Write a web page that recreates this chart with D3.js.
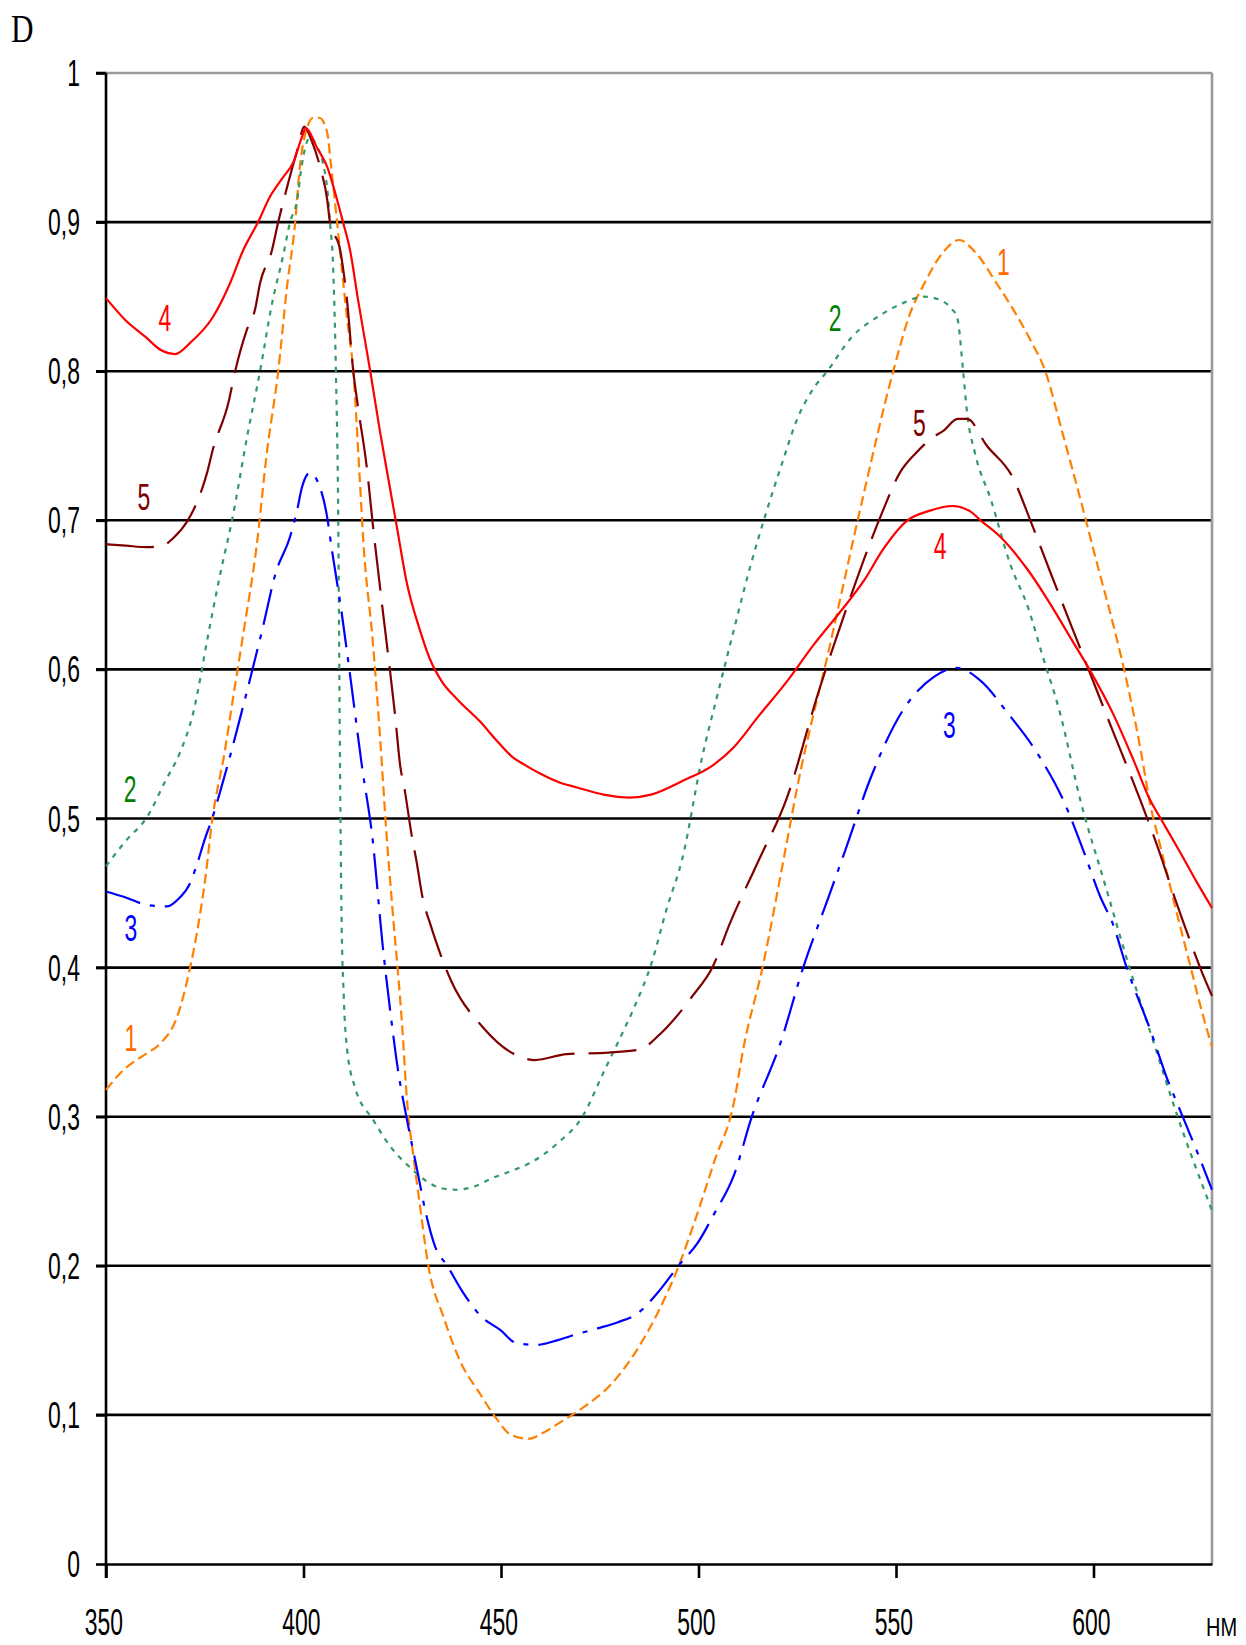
<!DOCTYPE html>
<html><head><meta charset="utf-8">
<script src="https://cdn.jsdelivr.net/npm/d3@7"></script>
<style>body{margin:0;background:#fff}</style>
</head><body>
<svg id="c" width="1246" height="1645"></svg>
<script>
// ---- data (wavelength nm, optical density D) ----
const wl1=[350,354.3,360,363.7,368,371.3,373,375,377,380,382,385,388,390.8,393.6,395.8,397.9,399,401,402.5,404,406,407,408.5,411,412.6,414.3,415.2,417.5,419.5,421,422.5,425,426.2,428,429.5,431.6,435.4,440.4,444,449,452.3,457,460.7,465,470.8,477.7,484.5,489.6,495,499.7,504,509,511.3,516.2,522,525,533,541.5,549.3,553.6,557,562,566,570,575.7,580,584,587.8,592,596.7,601,605,609,612,614.4,616.5,620.3,625,627.5,630];
const d1=[0.318,0.331,0.342,0.349,0.367,0.40,0.423,0.457,0.501,0.544,0.578,0.628,0.68,0.747,0.80,0.856,0.90,0.935,0.964,0.97,0.97,0.96,0.937,0.90,0.836,0.80,0.725,0.684,0.62,0.55,0.49,0.44,0.36,0.311,0.27,0.24,0.20,0.166,0.132,0.117,0.097,0.087,0.084,0.088,0.095,0.105,0.12,0.144,0.168,0.20,0.235,0.27,0.31,0.345,0.40,0.479,0.521,0.613,0.714,0.80,0.839,0.858,0.88,0.888,0.88,0.858,0.84,0.821,0.80,0.76,0.714,0.67,0.63,0.585,0.545,0.509,0.486,0.445,0.396,0.37,0.347];

const wl2=[350,355,360.4,365,368.7,372,376,379,381.9,386,389,392,394.8,396.6,398.4,399.5,401.7,403.5,404.7,406.2,406.7,407.5,408.2,408.8,409.2,409.6,410.2,411,413,417.6,422,427.8,431,435,438.9,443,448,453,457.4,464.2,470.6,476,480,484,488,492,495.8,501,505,509,513,517,521,525,529,532.6,538.5,546.3,552,557,561,564,565.5,567,568,570,574,579,583.5,587,591.5,596.7,602.9,609.1,615.2,621.3,629,630];
const d2=[0.468,0.485,0.501,0.525,0.544,0.57,0.625,0.665,0.70,0.76,0.80,0.845,0.877,0.90,0.915,0.937,0.957,0.95,0.942,0.917,0.90,0.87,0.80,0.70,0.55,0.44,0.38,0.346,0.32,0.298,0.28,0.264,0.257,0.252,0.251,0.253,0.259,0.264,0.269,0.282,0.30,0.33,0.352,0.375,0.402,0.44,0.472,0.542,0.585,0.627,0.668,0.704,0.737,0.768,0.788,0.80,0.822,0.838,0.846,0.85,0.848,0.842,0.836,0.80,0.772,0.745,0.714,0.67,0.641,0.61,0.571,0.512,0.456,0.40,0.35,0.30,0.244,0.237];

const wl3=[350,355,360.4,365.5,368.7,371,373,375,377,378.9,380.6,384.3,389.6,393,396.6,398.4,399.6,401.7,403.4,406,407.2,409.5,412,414.8,417.5,420,422,424,426.2,428.8,431,433.3,436.4,440.4,445,449.8,454,459.2,464.2,469,474.4,479.4,484.5,490.3,494.9,499.7,504,509,513.5,520.7,526.5,532.6,537.2,543.7,551.6,559.6,565.4,571.6,578.2,586.2,592.4,597.5,601.8,604.8,608.4,614.4,619,621.5,626.6,630];
const d3v=[0.451,0.447,0.442,0.441,0.447,0.455,0.469,0.486,0.501,0.518,0.534,0.571,0.627,0.665,0.689,0.707,0.722,0.732,0.727,0.702,0.68,0.641,0.592,0.535,0.486,0.416,0.37,0.33,0.298,0.264,0.235,0.213,0.20,0.182,0.166,0.157,0.148,0.147,0.150,0.154,0.158,0.162,0.168,0.184,0.20,0.215,0.235,0.261,0.30,0.349,0.40,0.445,0.479,0.528,0.572,0.595,0.601,0.592,0.571,0.542,0.512,0.478,0.447,0.43,0.40,0.358,0.323,0.307,0.274,0.251];

const wl4=[350,355,360,364,367.5,371.3,377,381.4,384.7,388.5,391.5,394.8,397.4,399.6,400.6,403.4,406,408.5,410,411.8,413.8,416.9,419.4,422,424,426,429.4,432,435,438.9,444.7,449,453,456,460,465,469,476,482.5,488,495.8,503.8,509,515,522.4,529,535.7,542,546.6,552.9,558,564.3,568.8,571.4,576.4,583.3,588.8,594,599.4,605,610,614.4,617,622,626,630];
const d4=[0.849,0.834,0.823,0.814,0.8115,0.819,0.836,0.859,0.881,0.90,0.917,0.93,0.94,0.957,0.963,0.95,0.937,0.915,0.90,0.881,0.848,0.80,0.759,0.72,0.69,0.66,0.627,0.607,0.592,0.58,0.565,0.552,0.541,0.536,0.53,0.524,0.521,0.516,0.514,0.516,0.525,0.536,0.548,0.568,0.592,0.616,0.638,0.66,0.68,0.70,0.706,0.7096,0.706,0.70,0.689,0.667,0.645,0.622,0.598,0.57,0.54,0.512,0.50,0.477,0.458,0.44];

const wl5=[350,355,360.4,364.4,367,370.5,373,375.6,377,381,382.7,385.7,387.7,389,392,393.6,396.1,398.4,400.2,402,404.2,406,406.7,409.3,411,412.6,413.8,416,417.6,420,423.2,424.5,425.5,427.5,428.5,430.3,432,437.4,445.4,453.3,458.6,466.6,477.2,485,490.5,498.5,503.5,508,514.9,522.4,530.4,538.4,546.3,551,555,559.5,562,565.6,568,573,579.5,584,588.8,596.8,604.7,611.9,616.5,620.8,622.8,627.6,630];
const d5=[0.684,0.683,0.682,0.683,0.688,0.699,0.712,0.732,0.747,0.779,0.80,0.828,0.841,0.859,0.881,0.90,0.926,0.948,0.964,0.955,0.937,0.915,0.90,0.881,0.848,0.80,0.776,0.736,0.696,0.641,0.569,0.535,0.521,0.487,0.473,0.445,0.43,0.391,0.36,0.342,0.338,0.342,0.343,0.345,0.356,0.381,0.40,0.43,0.47,0.514,0.585,0.648,0.704,0.732,0.745,0.756,0.76,0.768,0.768,0.75,0.729,0.70,0.667,0.613,0.56,0.512,0.479,0.445,0.43,0.396,0.381];

const yTickValues=[0,0.1,0.2,0.3,0.4,0.5,0.6,0.7,0.8,0.9,1];
const yTickLabels=["0","0,1","0,2","0,3","0,4","0,5","0,6","0,7","0,8","0,9","1"];
const xTickValues=[350,400,450,500,550,600];
const xTickLabels=["350","400","450","500","550","600"];

// curve number labels (text, wavelength, D)
const labelText=["4","4","5","5","2","2","3","3","1","1"];
const labelWl=[364.9,561.2,359.6,555.9,356.1,534.6,356.3,563.5,356.3,577.2];
const labelD=[0.8357,0.683,0.7156,0.765,0.520,0.836,0.4266,0.563,0.353,0.873];
const labelColor=["#ff0000","#ff0000","#800000","#800000","#008000","#008000","#0000ff","#0000ff","#ff6a00","#ff6a00"];

// ---- drawing ----
const svg=d3.select("#c");
const x=d3.scaleLinear().domain([350,630]).range([106,1212]);
const y=d3.scaleLinear().domain([0,1]).range([1564,73]);

const NUMFONT="'Liberation Sans', Arial, sans-serif";
function txt(s,px,py,opt){
  const g=svg.append("g").attr("transform",`translate(${px},${py}) scale(${opt.sx||0.62},1)`);
  g.append("text").attr("text-anchor",opt.anchor||"middle")
   .attr("font-family",opt.font||NUMFONT).attr("font-size",opt.size||37)
   .attr("font-weight","normal")
   .attr("fill",opt.color||"#000").text(s);
}

// grid lines
svg.append("g").selectAll("line").data(yTickValues.filter(v=>v>0&&v<1)).join("line")
  .attr("x1",x(350)-10).attr("x2",x(630)).attr("y1",d=>y(d)).attr("y2",d=>y(d))
  .attr("stroke","#000").attr("stroke-width",2.6);
// top frame line (gray) and right border
svg.append("line").attr("x1",x(350)).attr("x2",x(630)).attr("y1",y(1)).attr("y2",y(1))
  .attr("stroke","#9a9a9a").attr("stroke-width",2.6);
svg.append("line").attr("x1",x(630)).attr("x2",x(630)).attr("y1",y(1)).attr("y2",y(0))
  .attr("stroke","#9a9a9a").attr("stroke-width",2.6);
svg.append("line").attr("x1",x(350)-10).attr("x2",x(350)).attr("y1",y(1)).attr("y2",y(1))
  .attr("stroke","#000").attr("stroke-width",2.6);

// axes
const yAxis=svg.append("g").attr("transform",`translate(${x(350)},0)`)
  .call(d3.axisLeft(y).tickValues(yTickValues).tickSize(10).tickFormat("").tickSizeOuter(0));
const xAxis=svg.append("g").attr("transform",`translate(0,${y(0)})`)
  .call(d3.axisBottom(x).tickValues(xTickValues).tickSize(14).tickFormat("").tickSizeOuter(0));
[yAxis,xAxis].forEach(a=>{a.selectAll("path,line").attr("stroke","#000").attr("stroke-width",2.6);});
yAxis.select(".domain").attr("d",`M0,${y(1)}V${y(0)+14}`);

// tick labels
yTickValues.forEach((v,i)=>txt(yTickLabels[i],80,y(v)+13,{anchor:"end"}));
xTickValues.forEach((v,i)=>txt(xTickLabels[i],x(v)-2,1635,{}));

// axis titles
txt("D",11,42,{anchor:"start",font:"'Liberation Serif','Times New Roman',serif",size:39,sx:0.8});
txt("НМ",1206,1636,{anchor:"start",size:25,sx:0.8});

// curves
const line=d3.line().x(d=>x(d[0])).y(d=>y(d[1])).curve(d3.curveMonotoneX);
const series=[
  {w:wl1,v:d1,color:"#ff7f00",dash:"10,5"},
  {w:wl2,v:d2,color:"#339966",dash:"5,6"},
  {w:wl3,v:d3v,color:"#0000ff",dash:"36,10,5,10"},
  {w:wl5,v:d5,color:"#800000",dash:"48,14"},
  {w:wl4,v:d4,color:"#ff0000",dash:null}
];
series.forEach(s=>{
  svg.append("path").datum(d3.zip(s.w,s.v)).attr("d",line)
    .attr("fill","none").attr("stroke",s.color).attr("stroke-width",2.2)
    .attr("stroke-dasharray",s.dash);
});

// curve number labels
labelText.forEach((t,i)=>txt(t,x(labelWl[i]),y(labelD[i])+13,{color:labelColor[i]}));
</script>
</body></html>
